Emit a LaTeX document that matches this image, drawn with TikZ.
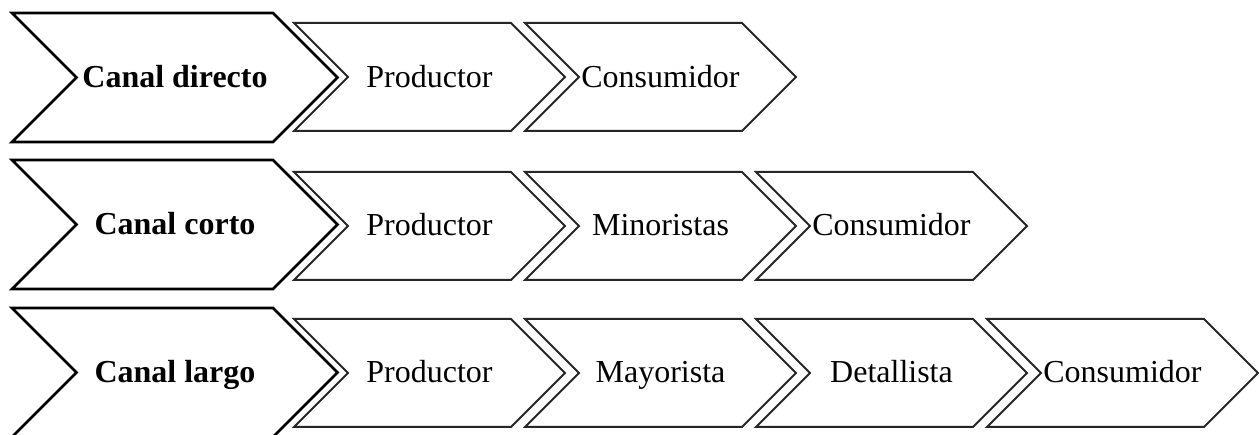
\documentclass[tikz,border=0pt]{standalone}
\usepackage{fontspec}
\setmainfont{Liberation Serif}
\tikzset{
  bigchev/.style={draw=black, line width=2.7pt, line join=miter, fill=white},
  smallchev/.style={draw=black!85, line width=2pt, line join=miter, fill=white},
  lab/.style={anchor=base, inner sep=0pt, font=\fontsize{32}{38}\selectfont},
  biglab/.style={lab, font=\fontsize{32}{38}\selectfont\bfseries},
}
% #1 style, #2 x left, #3 y top, #4 top width, #5 half height
\newcommand\mychevron[5]{%
  \draw[#1] (#2,#3) -- ++(#4,0) -- ++(#5,#5) -- ++(-#5,#5) -- ++(-#4,0) -- ++(#5,-#5) -- cycle;}
\begin{document}
\begin{tikzpicture}[x=1pt,y=-1pt]
\useasboundingbox (0,0) rectangle (1259,435);
\clip (0,0) rectangle (1259,435);
% row 1
\mychevron{bigchev}{12}{13}{261}{64.5}
\mychevron{smallchev}{294}{23}{217}{54}
\mychevron{smallchev}{525}{23}{217}{54}
\node[biglab] (d0) at (175,88) {Canal directo};
\node[lab] (d1) at (429.5,88) {Productor};
\node[lab] (d2) at (660.5,88) {Consumidor};
% row 2
\mychevron{bigchev}{12}{160}{261}{64.5}
\mychevron{smallchev}{294}{172}{217}{54}
\mychevron{smallchev}{525}{172}{217}{54}
\mychevron{smallchev}{756}{172}{217}{54}
\node[biglab] (c0) at (175,235) {Canal corto};
\node[lab] (c1) at (429.5,236) {Productor};
\node[lab] (c2) at (660.5,236) {Minoristas};
\node[lab] (c3) at (891.5,236) {Consumidor};
% row 3
\mychevron{bigchev}{12}{308}{261}{64.5}
\mychevron{smallchev}{294}{319}{217}{54}
\mychevron{smallchev}{525}{319}{217}{54}
\mychevron{smallchev}{756}{319}{217}{54}
\mychevron{smallchev}{987}{319}{217}{54}
\node[biglab] (l0) at (175,383) {Canal largo};
\node[lab] (l1) at (429.5,383) {Productor};
\node[lab] (l2) at (660.5,383) {Mayorista};
\node[lab] (l3) at (891.5,383) {Detallista};
\node[lab] (l4) at (1122.5,383) {Consumidor};
\end{tikzpicture}
\end{document}
